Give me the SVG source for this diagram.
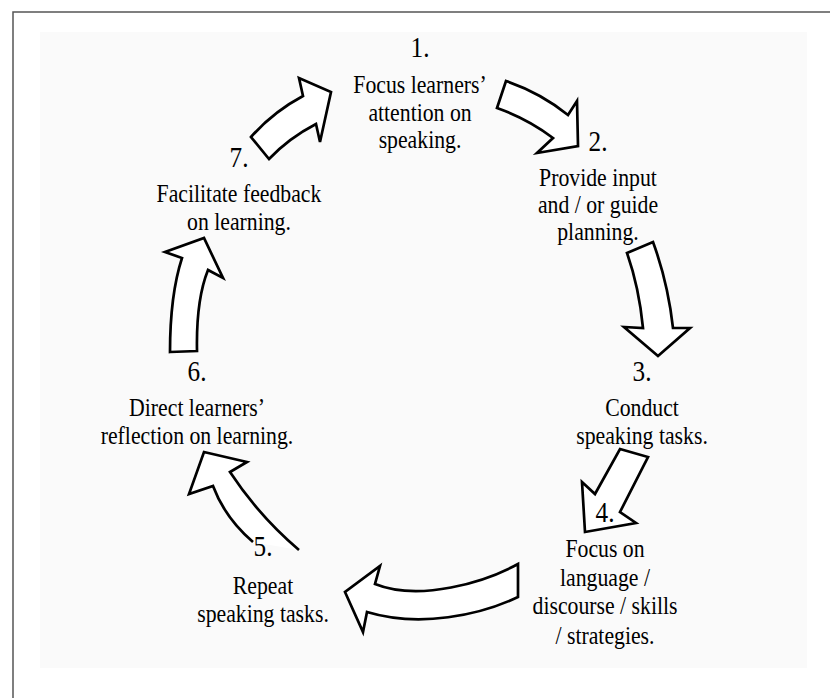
<svg xmlns="http://www.w3.org/2000/svg" width="830" height="698" viewBox="0 0 830 698">
<style>
text{font-family:"Liberation Serif","Times New Roman",serif;fill:#000;text-anchor:middle}
.num{font-size:29px}
.lbl{font-size:25px}
.arr{fill:#fff;stroke:#000;stroke-width:2.7;stroke-linejoin:miter}
</style>
<rect x="0" y="0" width="830" height="698" fill="#fff"/>
<rect x="40" y="32" width="767" height="636" fill="#fafafa"/>
<path d="M13,698 V12 H830" fill="none" stroke="#555" stroke-width="1.5"/>
<g id="connectors">
<path class="arr" d="M251,137 Q273,112 303,96 L299,78 L331,92 L320,142 L316,124 Q289,138 269,159 Z"/>
<path class="arr" d="M506,81 Q541,93 568,115 L577,101 L578,146 L537,153 L553,138 Q528,119 497,108 Z"/>
<path class="arr" d="M627,253 L653,242 Q668,283 673,328 L690,328 L658,356 L624,327 L643,328 Q639,287 627,253 Z"/>
<path class="arr" d="M620,449 L648,457 L620,512 L636,523 L585,532 L582,482 L595,494 Z"/>
<path class="arr" d="M518,564 C485,582 420,602 375,584 L380,566 L345,592 L363,632 L367,612 C420,628 480,615 518,597 Z"/>
<path class="arr" d="M253,542 Q225,518 213,486 L189,494 L204,452 L247,462 L230,472 Q259,516 299,550"/>
<path class="arr" d="M170,352 L197,351 Q196,300 208,270 L223,278 L204,238 L165,252 L182,258 Q170,295 170,352 Z"/>
</g>
<g id="n1" transform="translate(420,0) scale(0.87,1)">
<text class="num" y="57">1.</text>
<text class="lbl" y="93">Focus learners’</text>
<text class="lbl" y="121">attention on</text>
<text class="lbl" y="148">speaking.</text>
</g>
<g id="n2" transform="translate(598,0) scale(0.87,1)">
<text class="num" y="151">2.</text>
<text class="lbl" y="186">Provide input</text>
<text class="lbl" y="213">and / or guide</text>
<text class="lbl" y="240">planning.</text>
</g>
<g id="n3" transform="translate(642,0) scale(0.87,1)">
<text class="num" y="381">3.</text>
<text class="lbl" y="416">Conduct</text>
<text class="lbl" y="444">speaking tasks.</text>
</g>
<g id="n4" transform="translate(605,0) scale(0.87,1)">
<text class="num" y="522">4.</text>
<text class="lbl" y="557">Focus on</text>
<text class="lbl" y="586">language /</text>
<text class="lbl" y="614">discourse / skills</text>
<text class="lbl" y="644">/ strategies.</text>
</g>
<g id="n5" transform="translate(263,0) scale(0.87,1)">
<text class="num" y="556">5.</text>
<text class="lbl" y="594">Repeat</text>
<text class="lbl" y="622">speaking tasks.</text>
</g>
<g id="n6" transform="translate(197,0) scale(0.87,1)">
<text class="num" y="381">6.</text>
<text class="lbl" y="416">Direct learners’</text>
<text class="lbl" y="444">reflection on learning.</text>
</g>
<g id="n7" transform="translate(239,0) scale(0.87,1)">
<text class="num" y="167">7.</text>
<text class="lbl" y="202">Facilitate feedback</text>
<text class="lbl" y="230">on learning.</text>
</g>
</svg>
